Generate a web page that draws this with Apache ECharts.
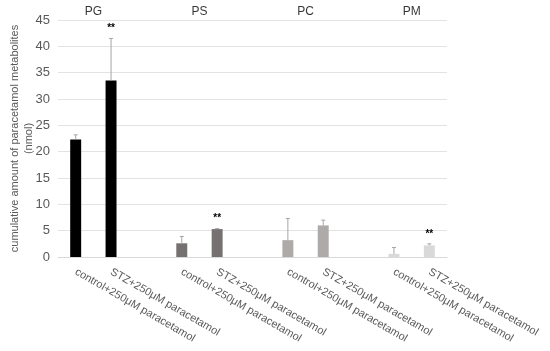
<!DOCTYPE html>
<html>
<head>
<meta charset="utf-8">
<script src="https://cdn.jsdelivr.net/npm/echarts@6/dist/echarts.min.js"></script>
<style>html,body{margin:0;padding:0;background:#fff}#c{width:550px;height:351px}</style>
</head>
<body>
<div id="c"></div>
<script>
const categories = ['control+250μM paracetamol','STZ+250μM paracetamol','',
  'control+250μM paracetamol','STZ+250μM paracetamol','',
  'control+250μM paracetamol','STZ+250μM paracetamol','',
  'control+250μM paracetamol','STZ+250μM paracetamol'];
const values = [22.3, 33.5, null, 2.6, 5.3, null, 3.2, 6.0, null, 0.6, 2.2];
const errors = [0.9, 8.0, null, 1.3, 0.1, null, 4.1, 1.0, null, 1.2, 0.3];
const marks = ['', '**', '', '', '**', '', '', '', '', '', '**'];
const barColors = ['#000000','#000000',null,'#767171','#767171',null,'#aeaaaa','#aeaaaa',null,'#d9d9d9','#d9d9d9'];
const groupNames = ['PG','PS','PC','PM'];
const groupPositions = [0.5, 3.5, 6.5, 9.5];
const yTicks = [0,5,10,15,20,25,30,35,40,45];

const chart = echarts.init(document.getElementById('c'));
const font = 'Liberation Sans, Arial, sans-serif';
chart.setOption({
  animation: false,
  grid: {left: 58, right: 103, top: 20, bottom: 94, containLabel: false, outerBoundsMode: 'none'},
  xAxis: [{
    type: 'category', data: categories,
    axisLine: {lineStyle: {color: '#d9d9d9'}},
    axisTick: {show: false},
    axisLabel: {rotate: -30, interval: 0, color: '#595959', fontSize: 11, fontFamily: font, margin: 14}
  }, {
    type: 'value', min: -0.5, max: 10.5, show: false
  }],
  yAxis: {
    type: 'value', min: 0, max: 45, interval: 5,
    name: 'cumulative amount of paracetamol metabolites\n(nmol)',
    nameLocation: 'middle', nameGap: 22, nameMoveOverlap: false,
    nameTextStyle: {color: '#595959', fontSize: 11, fontFamily: font, lineHeight: 14},
    axisLine: {show: false}, axisTick: {show: false},
    axisLabel: {color: '#595959', fontSize: 13, fontFamily: font, margin: 8},
    splitLine: {lineStyle: {color: '#e3e3e3'}}
  },
  series: [{
    type: 'bar', xAxisIndex: 0,
    data: values.map((v, i) => v == null ? null : {value: v, itemStyle: {color: barColors[i]}}),
    barWidth: '31%'
  }, {
    type: 'custom', xAxisIndex: 0,
    data: values.map((v, i) => [i, v, errors[i]]),
    renderItem: function (params, api) {
      const i = api.value(0);
      const v = api.value(1);
      if (isNaN(v)) return;
      const e = api.value(2);
      const p0 = api.coord([i, v]);
      const p1 = api.coord([i, v + e]);
      const children = [
        {type: 'line', shape: {x1: p0[0], y1: p0[1], x2: p1[0], y2: p1[1]}, style: {stroke: '#a6a6a6', lineWidth: 1}},
        {type: 'line', shape: {x1: p1[0]-2, y1: p1[1], x2: p1[0]+2, y2: p1[1]}, style: {stroke: '#a6a6a6', lineWidth: 1}}
      ];
      if (marks[params.dataIndex]) {
        children.push({type: 'text', style: {text: marks[params.dataIndex], x: p1[0], y: p1[1] - 5, textAlign: 'center', textVerticalAlign: 'bottom', fill: '#000', font: 'bold 10px ' + font}});
      }
      return {type: 'group', children: children};
    },
    z: 5
  }, {
    type: 'scatter', xAxisIndex: 1,
    data: groupPositions.map((p) => [p, 45]),
    symbolSize: 0,
    label: {show: true, position: 'top', distance: 2, color: '#000', fontSize: 12, fontFamily: font,
      formatter: (p) => groupNames[p.dataIndex]}
  }]
});
</script>
</body>
</html>
